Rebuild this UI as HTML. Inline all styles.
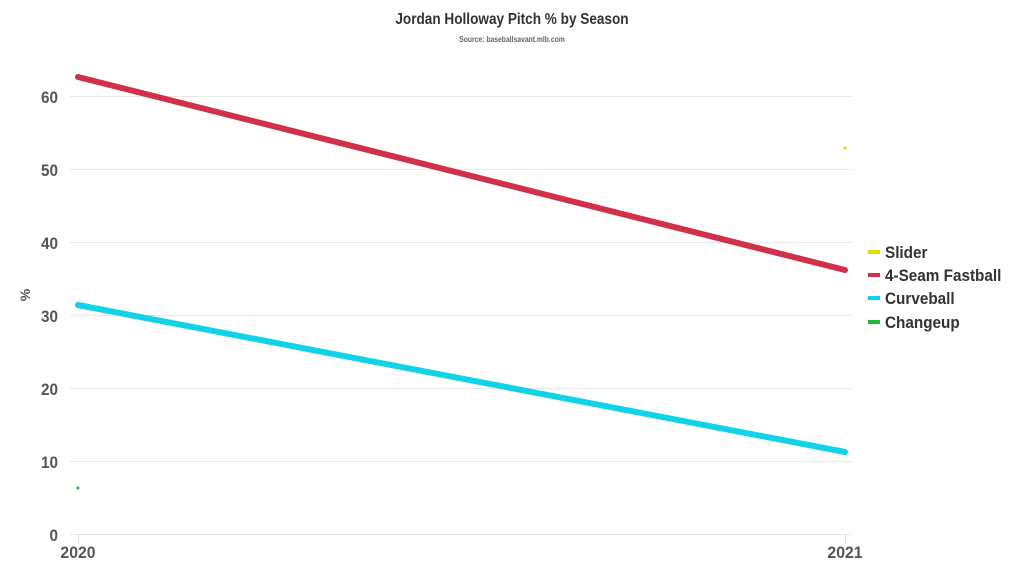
<!DOCTYPE html>
<html><head><style>body{margin:0;background:#fff}svg text{font-family:"Liberation Sans",sans-serif;font-weight:bold}</style></head>
<body>
<svg width="1024" height="576" xmlns="http://www.w3.org/2000/svg">
<rect width="1024" height="576" fill="#fff"/>
<text x="512" y="24" text-anchor="middle" font-size="16" fill="#333" transform="translate(512,0) scale(0.85,1) translate(-512,0)">Jordan Holloway Pitch % by Season</text>
<text x="512" y="42" text-anchor="middle" font-size="8" fill="#666" transform="translate(512,0) scale(0.85,1) translate(-512,0)">Source: baseballsavant.mlb.com</text>
<g stroke="#e8e8e8" stroke-width="1">
<line x1="70" x2="852" y1="96.5" y2="96.5"/><line x1="70" x2="852" y1="169.5" y2="169.5"/>
<line x1="70" x2="852" y1="242.5" y2="242.5"/><line x1="70" x2="852" y1="315.5" y2="315.5"/>
<line x1="70" x2="852" y1="388.5" y2="388.5"/><line x1="70" x2="852" y1="461.5" y2="461.5"/>
</g>
<line x1="70" x2="852" y1="534.5" y2="534.5" stroke="#dde8e8"/>
<line x1="78.5" x2="78.5" y1="534" y2="544" stroke="#ddd"/>
<line x1="845.5" x2="845.5" y1="534" y2="544" stroke="#ddd"/>
<g font-size="17" fill="#555" text-anchor="end" transform="translate(58,0) scale(0.9,1) translate(-58,0)">
<text x="58" y="103">60</text><text x="58" y="176">50</text><text x="58" y="249">40</text>
<text x="58" y="322">30</text><text x="58" y="395">20</text><text x="58" y="468">10</text><text x="58" y="541">0</text>
</g>
<g font-size="17" fill="#555" text-anchor="middle">
<text x="78" y="558" transform="translate(78,0) scale(0.93,1) translate(-78,0)">2020</text><text x="845" y="558" transform="translate(845,0) scale(0.93,1) translate(-845,0)">2021</text>
</g>
<text x="30" y="295" font-size="14" fill="#555" text-anchor="middle" transform="rotate(-90 30 295)">%</text>
<line x1="78" y1="77" x2="845" y2="270" stroke="#d0304a" stroke-width="6" stroke-linecap="round"/>
<line x1="78" y1="305" x2="845" y2="452" stroke="#12d2e8" stroke-width="6" stroke-linecap="round"/>
<circle cx="845" cy="148" r="1.5" fill="#e6d800"/>
<circle cx="78" cy="488" r="1.5" fill="#22b83a"/>
<rect x="868" y="250" width="12" height="4" fill="#e6d800"/>
<rect x="868" y="273" width="12" height="4" fill="#d0304a"/>
<rect x="868" y="296" width="12" height="4" fill="#12d2e8"/>
<rect x="868" y="320" width="12" height="4" fill="#22b83a"/>
<g font-size="17" fill="#333" transform="translate(885,0) scale(0.9,1) translate(-885,0)">
<text x="885" y="258">Slider</text>
<text x="885" y="281">4-Seam Fastball</text>
<text x="885" y="304">Curveball</text>
<text x="885" y="328">Changeup</text>
</g>
</svg>
</body></html>
